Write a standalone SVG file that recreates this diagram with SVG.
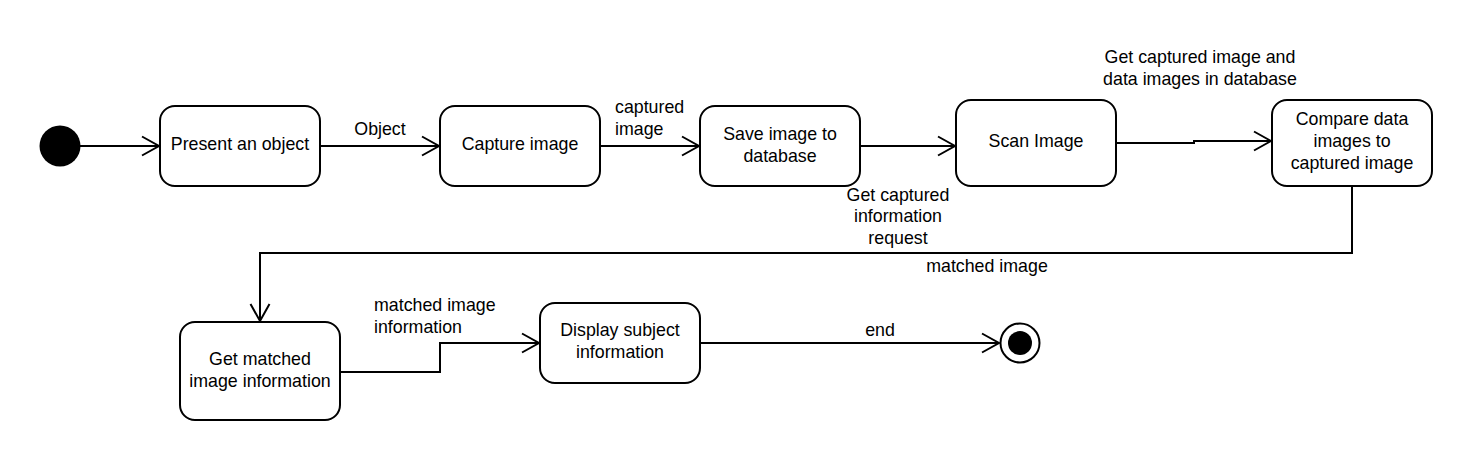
<svg xmlns="http://www.w3.org/2000/svg" width="1472" height="460" viewBox="0 0 1472 460">
<style>
.node{fill:#ffffff;stroke:#000000;stroke-width:2}
.t{font-family:"Liberation Sans",Arial,sans-serif;font-size:17.8px;fill:#000000}
.c{text-anchor:middle}
.edge{fill:none;stroke:#000000;stroke-width:2}
</style>
<defs>
<marker id="arr" markerUnits="userSpaceOnUse" markerWidth="24" markerHeight="24" viewBox="-20 -12 24 24" refX="0" refY="0" orient="auto">
<path d="M-17,-9.5 L0,0 L-17,9.5" fill="none" stroke="#000000" stroke-width="2"/>
</marker>
</defs>
<rect width="1472" height="460" fill="#ffffff"/>
<g id="connectors">
<path class="edge" d="M80,146 L159,146" marker-end="url(#arr)"/>
<path class="edge" d="M320,146 L439,146" marker-end="url(#arr)"/>
<path class="edge" d="M600,146 L699,146" marker-end="url(#arr)"/>
<path class="edge" d="M860,146 L955,146" marker-end="url(#arr)"/>
<path class="edge" d="M1116,143 L1194,143 L1194,141 L1271,141" marker-end="url(#arr)"/>
<path class="edge" d="M1352,186 L1352,253 L260,253 L260,321" marker-end="url(#arr)"/>
<path class="edge" d="M340,372 L440,372 L440,343 L539,343" marker-end="url(#arr)"/>
<path class="edge" d="M700,343 L999,343" marker-end="url(#arr)"/>
<text class="t c" x="380" y="135">Object</text>
<text class="t" x="615" y="113">captured</text>
<text class="t" x="615" y="135">image</text>
<text class="t c" x="898" y="201">Get captured</text>
<text class="t c" x="898" y="222">information</text>
<text class="t c" x="898" y="244">request</text>
<text class="t c" x="1200" y="63">Get captured image and</text>
<text class="t c" x="1200" y="85">data images in database</text>
<text class="t c" x="987" y="272">matched image</text>
<text class="t" x="374" y="311">matched image</text>
<text class="t" x="374" y="333">information</text>
<text class="t c" x="880" y="336">end</text>
</g>
<g id="start"><circle cx="60" cy="146" r="20.5" fill="#000000"/></g>
<g id="present"><rect class="node" x="160" y="106" width="160" height="80" rx="15"/><text class="t c" x="240" y="150">Present an object</text></g>
<g id="capture"><rect class="node" x="440" y="106" width="160" height="80" rx="15"/><text class="t c" x="520" y="150">Capture image</text></g>
<g id="save"><rect class="node" x="700" y="106" width="160" height="80" rx="15"/><text class="t c" x="780" y="139.5">Save image to</text><text class="t c" x="780" y="161.5">database</text></g>
<g id="scan"><rect class="node" x="956" y="100" width="160" height="86" rx="15"/><text class="t c" x="1036" y="147">Scan Image</text></g>
<g id="compare"><rect class="node" x="1272" y="100" width="160" height="86" rx="15"/><text class="t c" x="1352" y="125">Compare data</text><text class="t c" x="1352" y="147">images to</text><text class="t c" x="1352" y="169">captured image</text></g>
<g id="getmatched"><rect class="node" x="180" y="322" width="160" height="98" rx="15"/><text class="t c" x="260" y="365">Get matched</text><text class="t c" x="260" y="387">image information</text></g>
<g id="display"><rect class="node" x="540" y="303" width="160" height="80" rx="15"/><text class="t c" x="620" y="336">Display subject</text><text class="t c" x="620" y="358">information</text></g>
<g id="final"><circle cx="1020" cy="343" r="19.5" fill="#ffffff" stroke="#000000" stroke-width="2"/><circle cx="1020" cy="343" r="12" fill="#000000"/></g>
</svg>
